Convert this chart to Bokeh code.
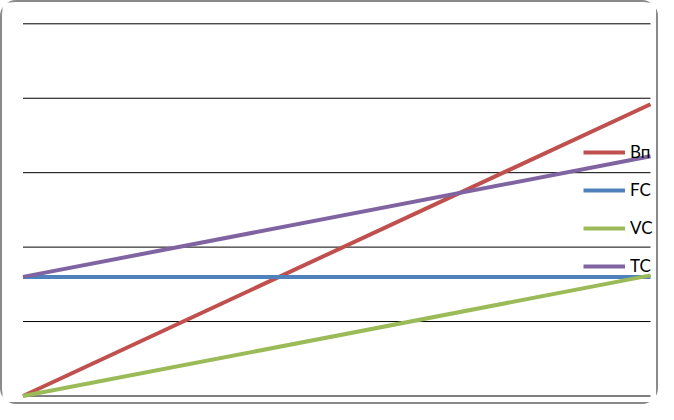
from bokeh.plotting import figure
from bokeh.models import Range1d, Legend, LegendItem
from bokeh.embed import file_html
from bokeh.resources import INLINE

# data
q = [0, 1]
vp = [0, 392]      # Вп (revenue)
fc = [160, 160]    # FC
vc = [0, 162]      # VC
tc = [160, 322]    # TC
grid_values = [0, 100, 200, 300, 400, 500]
names = ["Вп", "FC", "VC", "TC"]
colors = ["#C0504D", "#4F81BD", "#9BBB59", "#8064A2"]

W, H = 658, 404
left_px, right_px = 20.5, 648
bot_px, top_px = 10.5, 382.7
xs = (right_px - left_px) / (q[-1] - q[0])
ys = (top_px - bot_px) / (grid_values[-1] - grid_values[0])

p = figure(width=W, height=H, output_backend="svg", toolbar_location=None,
           x_range=Range1d(q[0] - left_px / xs, q[-1] + (W - right_px) / xs),
           y_range=Range1d(grid_values[0] - bot_px / ys, grid_values[-1] + (H - top_px) / ys),
           min_border=0, min_border_left=0, min_border_right=0,
           min_border_top=0, min_border_bottom=0)
p.axis.visible = False
p.xgrid.visible = False
p.ygrid.visible = False
p.outline_line_color = None
p.background_fill_color = "white"
p.border_fill_color = "white"
p.styles = {"border": "2px solid #8a8a8a", "border-radius": "16px", "box-sizing": "border-box"}

p.segment(x0=[q[0]] * len(grid_values), x1=[q[-1]] * len(grid_values),
          y0=grid_values, y1=grid_values, line_color="black", line_width=1)

renderers = []
for ys_, c in zip([vp, fc, vc, tc], colors):
    r = p.line(q, ys_, line_color=c, line_width=4)
    renderers.append(r)

legend = Legend(items=[LegendItem(label=n, renderers=[r]) for n, r in zip(names, renderers)],
                location=(581, 130), orientation="vertical",
                glyph_width=42, glyph_height=20, label_height=20, spacing=17,
                label_standoff=5, padding=0, margin=0,
                border_line_color=None, background_fill_alpha=0,
                label_text_font="Lato", label_text_font_size="17px",
                label_text_color="black", label_text_baseline="middle")
p.add_layout(legend)

open("out.html", "w").write(file_html(p, INLINE))
